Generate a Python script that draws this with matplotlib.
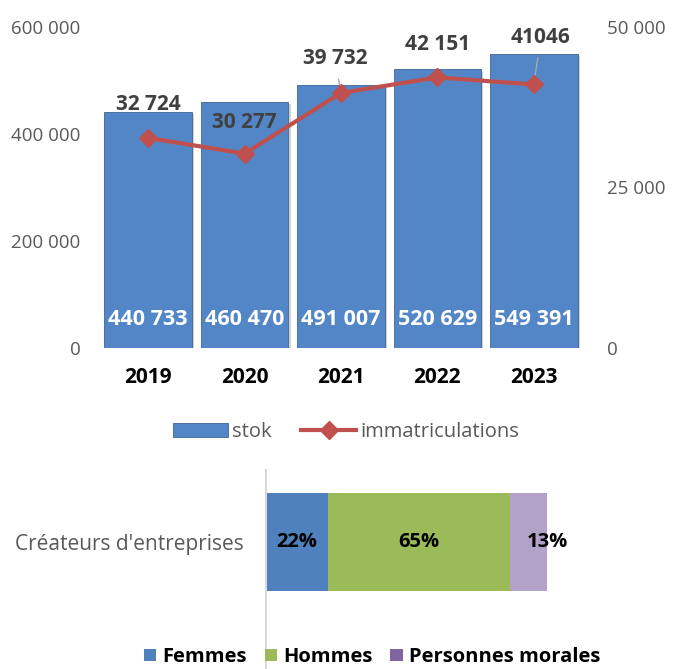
import matplotlib
matplotlib.use('Agg')

import matplotlib.pyplot as plt
import matplotlib.patheffects as pe
from matplotlib.patches import Patch
from matplotlib.lines import Line2D
from matplotlib.ticker import FuncFormatter
import numpy as np

plt.rcParams['font.family'] = ['Open Sans', 'DejaVu Sans']

# --- data ---
years = ['2019', '2020', '2021', '2022', '2023']
stok = [440733, 460470, 491007, 520629, 549391]
immat = [32724, 30277, 39732, 42151, 41046]
immat_labels = ['32 724', '30 277', '39 732', '42 151', '41046']

profile_category = "Créateurs d'entreprises"
profile_groups = ['Femmes', 'Hommes', 'Personnes morales']
profile_shares = [0.22, 0.65, 0.13]

BLUE = '#5386C7'
RED = '#C0504D'
GRAY_TXT = '#595959'
profile_colors = ['#4F81BD', '#9BBB59', '#B3A2C7']
profile_legend_colors = ['#4F81BD', '#9BBB59', '#8064A2']

W, H = 673, 669
fig = plt.figure(figsize=(W / 100, H / 100), dpi=100)


def px_axes(x0, y0, x1, y1):
    return fig.add_axes([x0 / W, 1 - y1 / H, (x1 - x0) / W, (y1 - y0) / H])


def spaced(v):
    return f'{int(v):,}'.replace(',', ' ')


# --- top chart: stock bars + registrations line ---
ax = px_axes(100, 27, 582, 348)
x = np.arange(len(years))
bars = ax.bar(x, stok, width=0.91, color=BLUE, edgecolor='#3E6596', linewidth=0.6,
              path_effects=[pe.SimplePatchShadow(offset=(1.5, -1.5), shadow_rgbFace='#808080', alpha=0.35),
                            pe.Normal()])
ax.set_xlim(-0.5, len(years) - 0.5)
ax.set_ylim(0, 600000)
ax.set_yticks([0, 200000, 400000, 600000])
ax.yaxis.set_major_formatter(FuncFormatter(lambda v, p: spaced(v)))
ax.set_xticks(x)
ax.set_xticklabels(years, fontweight='bold', fontsize=15, color='black')
ax.tick_params(axis='x', length=0, pad=14)
ax.tick_params(axis='y', length=0, pad=14, labelsize=13.5, labelcolor=GRAY_TXT)
for s in ax.spines.values():
    s.set_visible(False)

for xi, v in zip(x, stok):
    ax.annotate(spaced(v), xy=(xi, 0), xytext=(0, 28), textcoords='offset pixels',
                ha='center', va='center', color='white', fontweight='bold', fontsize=15.5)

ax2 = ax.twinx()
ax2.plot(x, immat, color=RED, lw=3, marker='D', ms=9, zorder=5)
ax2.set_ylim(0, 50000)
ax2.set_yticks([0, 25000, 50000])
ax2.yaxis.set_major_formatter(FuncFormatter(lambda v, p: spaced(v)))
ax2.tick_params(axis='y', length=0, pad=18, labelsize=13.5, labelcolor=GRAY_TXT)
for s in ax2.spines.values():
    s.set_visible(False)

label_offsets = [(0, 33), (0, 31), (-6, 34), (0, 33), (7, 47)]
leader = [False, False, True, False, True]
for xi, v, lab, off, ld in zip(x, immat, immat_labels, label_offsets, leader):
    kw = {}
    if ld:
        kw['arrowprops'] = dict(arrowstyle='-', color='#A6A6A6', lw=1, shrinkA=5, shrinkB=2)
    ax2.annotate(lab, xy=(xi, v), xytext=off, textcoords='offset pixels',
                 ha='center', va='center', color='#404040', fontweight='bold', fontsize=15, **kw)

top_handles = [Patch(facecolor=BLUE, edgecolor='#3E6596', linewidth=0.6),
               Line2D([], [], color=RED, lw=3, marker='D', ms=9)]
fig.legend(top_handles, ['stok', 'immatriculations'], loc='center',
           bbox_to_anchor=(346 / W, 1 - 432 / H), ncol=2, frameon=False,
           fontsize=14.5, labelcolor=GRAY_TXT, handlelength=2.7, handleheight=0.65,
           handletextpad=0.2, columnspacing=1.5)

# --- bottom chart: profile of company creators ---
axb = px_axes(266, 470, 547, 669)
left = 0
for share, col in zip(profile_shares, profile_colors):
    axb.barh([0], [share], left=left, height=0.5, color=col)
    left += share
axb.set_xlim(0, 1)
axb.set_ylim(-127 / 196, 72 / 196)
axb.set_xticks([])
axb.set_yticks([0])
axb.set_yticklabels([profile_category], fontsize=15, color=GRAY_TXT)
axb.tick_params(axis='y', length=0, pad=16)
for k, s in axb.spines.items():
    s.set_visible(k == 'left')
axb.spines['left'].set_color('#D9D9D9')
axb.spines['left'].set_linewidth(1.5)

left = 0
seg_offsets = [0, 0, 19]
for share, off in zip(profile_shares, seg_offsets):
    axb.annotate(f'{share:.0%}', xy=(left + share / 2, 0), xytext=(off, 0),
                 textcoords='offset pixels', ha='center', va='center',
                 fontweight='bold', fontsize=14.5, color='black', annotation_clip=False)
    left += share

bot_handles = [Patch(facecolor=c) for c in profile_legend_colors]
fig.legend(bot_handles, profile_groups, loc='center', bbox_to_anchor=(372 / W, 1 - 657 / H),
           ncol=3, frameon=False, prop={'weight': 'bold', 'size': 14.5},
           handlelength=0.6, handleheight=0.6, handletextpad=0.3, columnspacing=0.9)

fig.savefig('out.png', dpi=100)
